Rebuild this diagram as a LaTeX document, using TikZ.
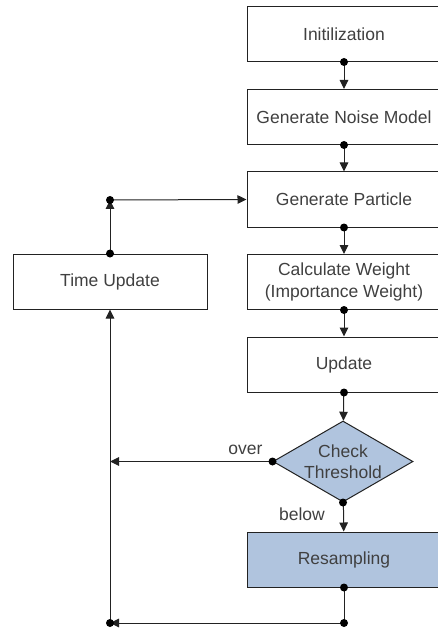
\documentclass[tikz,border=0pt]{standalone}
\usepackage{fontspec}
\setmainfont{Liberation Sans}
\usetikzlibrary{shapes.geometric,arrows.meta}
\definecolor{linegray}{RGB}{34,34,34}
\definecolor{txtgray}{RGB}{64,64,64}
\definecolor{stepblue}{RGB}{176,196,222}
\begin{document}
\begin{tikzpicture}[
    x=1pt, y=-1pt,
    box/.style={rectangle, draw=linegray, line width=1pt,
                minimum width=194pt, minimum height=55pt,
                font=\fontsize{17.5}{22}\selectfont, text=txtgray, align=center},
    shaded/.style={box, fill=stepblue},
    decision/.style={diamond, draw=linegray, fill=stepblue, line width=1pt,
                shape aspect=1.73, inner sep=-3pt,
                minimum width=140pt, minimum height=81pt,
                font=\fontsize{17.5}{21}\selectfont, text=txtgray, align=center},
    lbl/.style={font=\fontsize{17.5}{21}\selectfont, text=txtgray},
    arrow/.style={-{Triangle[length=9pt,width=8.5pt]}, line width=1pt, draw=linegray},
    line/.style={line width=1pt, draw=linegray},
    dot/.style={fill=black},
]
\useasboundingbox (0,0) rectangle (438,628);
\clip (0,0) rectangle (438,628);

% Blocchi principali
\node[box] (init) at (344,34) {Initilization};
\node[box] (noise) at (344,117) {Generate Noise Model};
\node[box] (particle) at (344,199.5) {Generate Particle};
\node[box] (weight) at (344,282) {Calculate Weight\\(Importance Weight)};
\node[box] (update) at (344,364.5) {Update};
\node[decision] (check) at (343,461.5) {Check\\Threshold};
\node[shaded] (resample) at (344,559.5) {Resampling};
\node[box] (timeupd) at (110,281.5) {Time Update};

% Punti di giunzione
\coordinate (jtop) at (110,200);
\coordinate (jover) at (110,461.5);
\coordinate (jbr) at (344,623);
\coordinate (jbl) at (110,623);

% Flusso verticale
\draw[arrow] (init) -- (noise);
\draw[arrow] (noise) -- (particle);
\draw[arrow] (particle) -- (weight);
\draw[arrow] (weight) -- (update);
\draw[arrow] (update) -- (check);
\draw[arrow] (check) -- (resample);
\draw[line] (resample) -- (jbr);

% Ritorno
\draw[arrow] (jbr) -- (jbl);
\draw[arrow] (jbl) -- (timeupd);
\draw[arrow] (check.west) -- (jover);
\draw[arrow] (timeupd) -- (jtop);
\draw[arrow] (jtop) -- (particle.west);

% Etichette
\node[lbl, anchor=south east] (over) at (266,458) {over};
\node[lbl] (below) at (302,514) {below};

% Pallini
\foreach \p in {init.south, noise.south, particle.south, weight.south,
                update.south, check.south, check.west, resample.south,
                timeupd.north, jtop, jbr, jbl}
    \fill[dot] (\p) circle (4pt);

\end{tikzpicture}
\end{document}
